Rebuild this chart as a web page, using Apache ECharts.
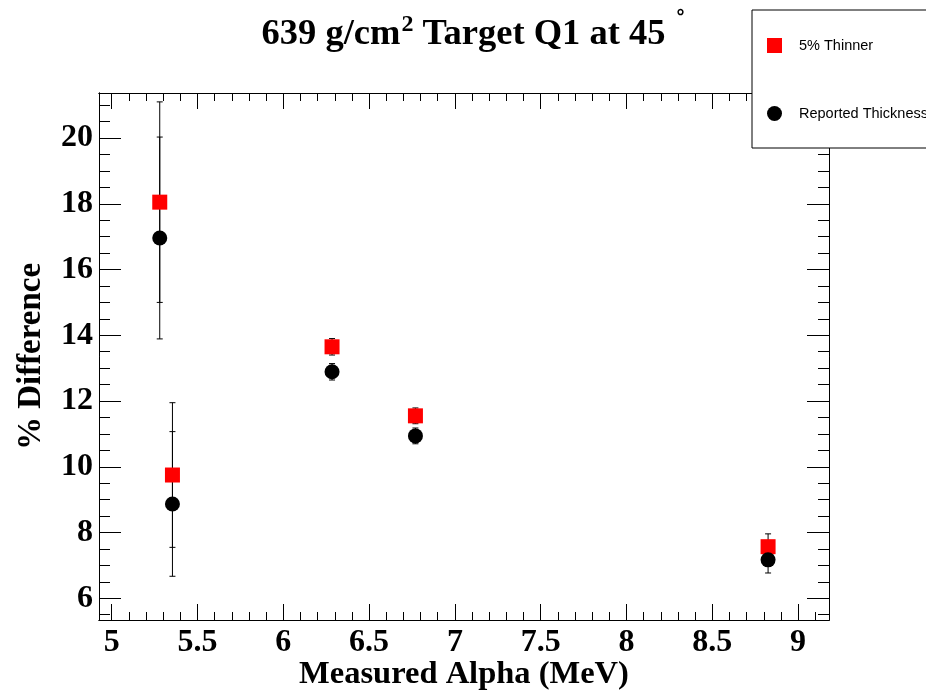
<!DOCTYPE html>
<html>
<head>
<meta charset="utf-8">
<script src="https://cdn.jsdelivr.net/npm/echarts@6/dist/echarts.min.js"></script>
<style>
  html, body { margin: 0; padding: 0; background: #fff; }
  #chart { width: 926px; height: 692px; }
</style>
</head>
<body>
<div id="chart"></div>
<script>
// measured alpha energy (MeV)
var energy = [5.28, 5.354, 6.284, 6.77, 8.825];
// % difference, 5% thinner target
var thinner = [18.05, 9.75, 13.65, 11.55, 7.57];
var thinnerErr = [3.05, 2.2, 0.25, 0.24, 0.39];
// % difference, reported thickness
var reported = [16.96, 8.87, 12.89, 10.94, 7.17];
var reportedErr = [3.07, 2.2, 0.25, 0.24, 0.4];

var xTicks = [5, 5.5, 6, 6.5, 7, 7.5, 8, 8.5, 9];
var yTicks = [6, 8, 10, 12, 14, 16, 18, 20];
var xRange = [4.926, 9.18];
var yRange = [5.34, 21.37];

var serif = '"Liberation Serif", "Times New Roman", serif';
var sans = '"Liberation Sans", Arial, sans-serif';

function minorTicks(from, to, step, majors) {
  var out = [];
  for (var v = from; v <= to + 1e-9; v += step) {
    var r = Math.round(v * 100) / 100;
    if (majors.indexOf(r) < 0) out.push(r);
  }
  return out;
}
var xMinor = minorTicks(5, 9.1, 0.1, xTicks);
var yMinor = minorTicks(5.5, 21, 0.5, yTicks);

var labelStyle = { fontFamily: serif, fontWeight: 'bold', fontSize: 32, color: '#000' };

function makeAxis(range, pos, ticks, len, labels, margin) {
  return {
    type: 'value',
    position: pos,
    min: range[0],
    max: range[1],
    axisLine: { show: true, onZero: false, lineStyle: { color: '#000', width: 1 } },
    axisTick: { show: true, inside: true, length: len, customValues: ticks,
      lineStyle: { color: '#000', width: 1 } },
    axisLabel: Object.assign({ show: labels, customValues: ticks, margin: margin }, labelStyle),
    splitLine: { show: false }
  };
}

var xMain = makeAxis(xRange, 'bottom', xTicks, 16, true, 7);
xMain.name = 'Measured Alpha (MeV)';
xMain.nameLocation = 'middle';
xMain.nameGap = 38;
xMain.nameMoveOverlap = false;
xMain.nameTextStyle = { fontFamily: serif, fontWeight: 'bold', fontSize: 32.5, color: '#000' };

var yMain = makeAxis(yRange, 'left', yTicks, 22, true, 6);
yMain.name = '% Difference';
yMain.nameLocation = 'middle';
yMain.nameGap = 51;
yMain.nameTextStyle = { fontFamily: serif, fontWeight: 'bold', fontSize: 33, color: '#000' };

function errorSeries(name, vals, errs) {
  return {
    type: 'custom',
    name: name,
    xAxisIndex: 0,
    yAxisIndex: 0,
    silent: true,
    z: 1,
    data: energy.map(function (e, i) { return [e, vals[i] - errs[i], vals[i] + errs[i]]; }),
    encode: { x: 0, y: [1, 2] },
    renderItem: function (params, api) {
      var lo = api.coord([api.value(0), api.value(1)]);
      var hi = api.coord([api.value(0), api.value(2)]);
      var w = 3;
      var st = { stroke: '#000', lineWidth: 1 };
      return {
        type: 'group',
        children: [
          { type: 'line', shape: { x1: lo[0], y1: lo[1], x2: hi[0], y2: hi[1] }, style: st },
          { type: 'line', shape: { x1: lo[0] - w, y1: lo[1], x2: lo[0] + w, y2: lo[1] }, style: st },
          { type: 'line', shape: { x1: hi[0] - w, y1: hi[1], x2: hi[0] + w, y2: hi[1] }, style: st }
        ]
      };
    }
  };
}

var chart = echarts.init(document.getElementById('chart'));
chart.setOption({
  backgroundColor: '#fff',
  animation: false,
  title: {
    text: '{t|639 g/cm}{s|2}{t| Target Q1 at 45}{d|°}',
    left: 468,
    textAlign: 'center',
    top: -2,
    textStyle: {
      rich: {
        t: { fontFamily: serif, fontWeight: 'bold', fontSize: 36.5, color: '#000', lineHeight: 36, verticalAlign: 'bottom' },
        s: { fontFamily: serif, fontWeight: 'bold', fontSize: 24, color: '#000', lineHeight: 50, verticalAlign: 'top', padding: [10, 0, 0, 1] },
        d: { fontFamily: sans, fontSize: 20, color: '#000', lineHeight: 50, verticalAlign: 'top', padding: [4, 0, 0, 11] }
      }
    }
  },
  legend: {
    orient: 'vertical',
    left: 752,
    top: 10,
    data: ['5% Thinner', 'Reported Thickness'],
    backgroundColor: '#fff',
    borderColor: '#000',
    borderWidth: 1,
    borderRadius: 0,
    padding: [28, 60, 27, 15],
    itemWidth: 15,
    itemHeight: 15,
    itemGap: 53,
    textStyle: { fontFamily: sans, fontSize: 14.5, color: '#000', padding: [0, 0, 0, 12] }
  },
  grid: { left: 99, top: 93, right: 97, bottom: 72, outerBoundsMode: 'none' },
  xAxis: [
    xMain,
    makeAxis(xRange, 'bottom', xMinor, 8, false, 8),
    makeAxis(xRange, 'top', xTicks, 16, false, 8),
    makeAxis(xRange, 'top', xMinor, 8, false, 8)
  ],
  yAxis: [
    yMain,
    makeAxis(yRange, 'left', yMinor, 11, false, 8),
    makeAxis(yRange, 'right', yTicks, 22, false, 8),
    makeAxis(yRange, 'right', yMinor, 11, false, 8)
  ],
  series: [
    errorSeries('thinnerErr', thinner, thinnerErr),
    errorSeries('reportedErr', reported, reportedErr),
    {
      name: '5% Thinner',
      type: 'scatter',
      xAxisIndex: 0,
      yAxisIndex: 0,
      symbol: 'rect',
      symbolSize: 15,
      itemStyle: { color: '#ff0000', opacity: 1 },
      z: 3,
      data: energy.map(function (e, i) { return [e, thinner[i]]; })
    },
    {
      name: 'Reported Thickness',
      type: 'scatter',
      xAxisIndex: 0,
      yAxisIndex: 0,
      symbol: 'circle',
      symbolSize: 15,
      itemStyle: { color: '#000', opacity: 1 },
      z: 4,
      data: energy.map(function (e, i) { return [e, reported[i]]; })
    }
  ]
});
</script>
</body>
</html>
